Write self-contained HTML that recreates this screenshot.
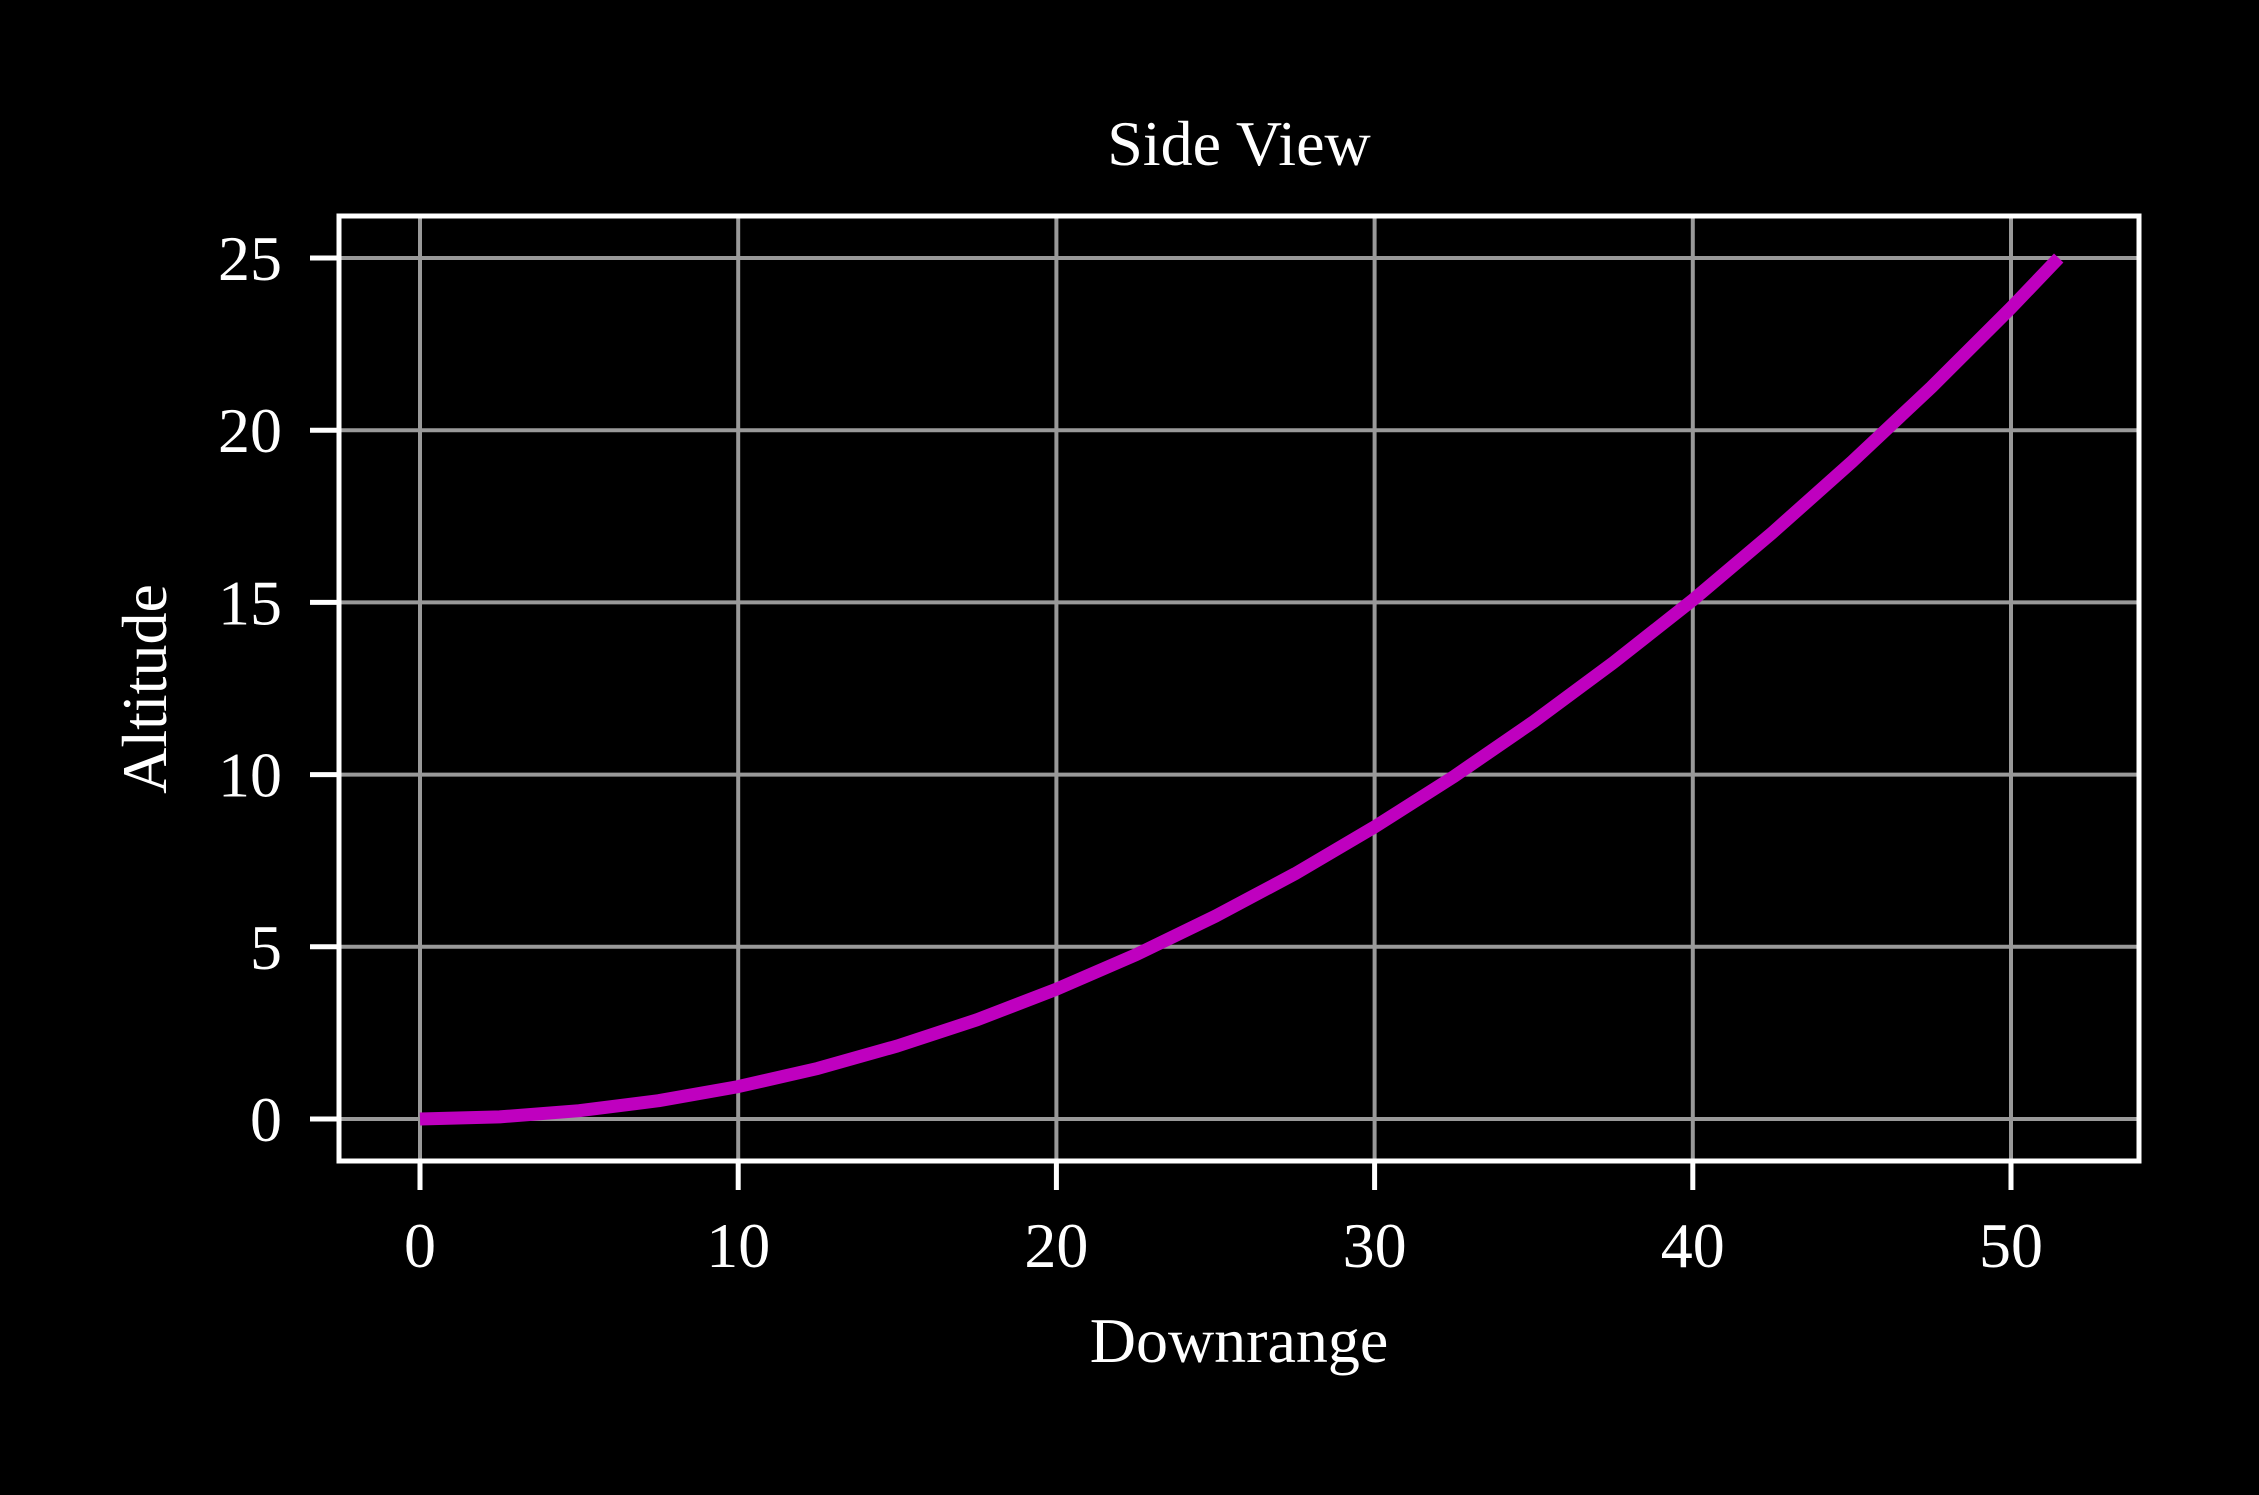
<!DOCTYPE html>
<html><head><meta charset="utf-8"><style>
html,body{margin:0;padding:0;background:#000;}
svg{display:block;}
text{font-family:"Liberation Serif",serif;fill:#fff;}
</style></head><body>
<svg id="chart" width="2259" height="1495" viewBox="0 0 2259 1495" xmlns="http://www.w3.org/2000/svg">
<rect width="2259" height="1495" fill="#000"/>
<g id="grid"></g>
<g id="ticks"></g>
<g id="series"></g>
<rect x="339" y="216" width="1800" height="945" fill="none" stroke="#fff" stroke-width="5"/>
<text x="1239" y="165" font-size="64" text-anchor="middle">Side View</text>
<text x="1239" y="1362" font-size="64" text-anchor="middle">Downrange</text>
<text transform="translate(166,689) rotate(-90)" font-size="64" text-anchor="middle">Altitude</text>
</svg>
<script>
const xTicks = [0, 10, 20, 30, 40, 50];
const yTicks = [0, 5, 10, 15, 20, 25];
const downrange = [0, 2.5, 5, 7.5, 10, 12.5, 15, 17.5, 20, 22.5, 25, 27.5, 30, 32.5, 35, 37.5, 40, 42.5, 45, 47.5, 50, 51.5];
const altitude = [0, 0.06, 0.24, 0.53, 0.94, 1.47, 2.12, 2.88, 3.77, 4.77, 5.89, 7.12, 8.48, 9.95, 11.54, 13.25, 15.07, 17.02, 19.08, 21.25, 23.55, 25.0];
const NS = "http://www.w3.org/2000/svg";
function sx(v){ return 420 + (v - 0) * (2011 - 420) / 50; }
function sy(v){ return 1119 - v * (1119 - 258) / 25; }
const grid = document.getElementById('grid');
const ticks = document.getElementById('ticks');
const series = document.getElementById('series');
function mk(tag, attrs, parent){ const e = document.createElementNS(NS, tag); for (const k in attrs) e.setAttribute(k, attrs[k]); parent.appendChild(e); return e; }
xTicks.forEach(v => {
  const x = sx(v);
  const g = mk('line', {x1:x, x2:x, y1:216, y2:1161, stroke:'#999', 'stroke-width':4}, grid);
  
  
  const t = mk('line', {x1:x, x2:x, y1:1161, y2:1190, stroke:'#fff', 'stroke-width':5}, ticks);
  
  
  const l = mk('text', {x:x, y:1267, 'font-size':64, 'text-anchor':'middle'}, ticks);
  l.textContent = v;
  
  
});
yTicks.forEach(v => {
  const y = sy(v);
  const g = mk('line', {x1:339, x2:2139, y1:y, y2:y, stroke:'#999', 'stroke-width':4}, grid);
  
  
  const t = mk('line', {x1:310, x2:339, y1:y, y2:y, stroke:'#fff', 'stroke-width':5}, ticks);
  
  
  const l = mk('text', {x:282, y:y + 22, 'font-size':64, 'text-anchor':'end'}, ticks);
  l.textContent = v;
  
  
});
const d = downrange.map((v, i) => (i ? 'L' : 'M') + sx(v).toFixed(1) + ',' + sy(altitude[i]).toFixed(1)).join(' ');
const p = mk('path', {d:d, fill:'none', stroke:'#bf00bf', 'stroke-width':13, 'stroke-linejoin':'round'}, series);


</script>
</body></html>
